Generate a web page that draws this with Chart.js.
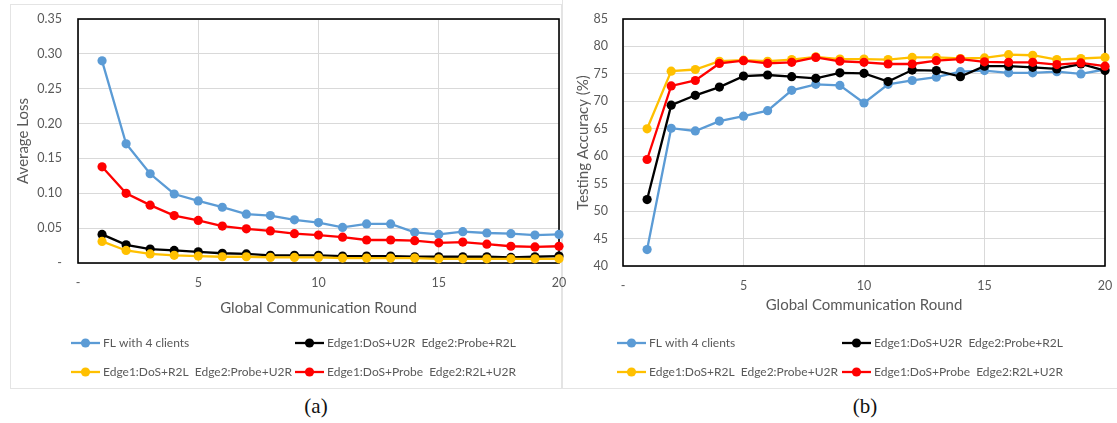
<!DOCTYPE html>
<html>
<head>
<meta charset="utf-8">
<script src="https://cdn.jsdelivr.net/npm/chart.js@4.4.1/dist/chart.umd.min.js"></script>
<style>
  html, body { margin: 0; padding: 0; background: #fff; }
  #wrap { position: relative; width: 1117px; height: 423px; overflow: hidden; background: #fff; }
  .frame { position: absolute; border: 1px solid #e4e4e4; box-sizing: border-box; }
  canvas { position: absolute; }
  .cap { position: absolute; top: 394px; font-family: "Liberation Serif", "DejaVu Serif", serif; font-size: 21px; color: #111; transform: translateX(-50%); }
</style>
</head>
<body>
<div id="wrap">
  <div class="frame" style="left:10px; top:4px; width:552px; height:385px;"></div>
  <div class="frame" style="left:562px; top:-2px; width:560px; height:391px;"></div>
  <canvas id="lossChart" width="580" height="388" style="left:0; top:0;"></canvas>
  <canvas id="accChart" width="555" height="388" style="left:562px; top:0;"></canvas>
  <div class="cap" style="left:316px;">(a)</div>
  <div class="cap" style="left:865px;">(b)</div>
</div>
<script>
// Communication rounds
const rounds = [1, 2, 3, 4, 5, 6, 7, 8, 9, 10, 11, 12, 13, 14, 15, 16, 17, 18, 19, 20];

// Series names
const seriesNames = [
  'FL with 4 clients',
  'Edge1:DoS+U2R  Edge2:Probe+R2L',
  'Edge1:DoS+R2L  Edge2:Probe+U2R',
  'Edge1:DoS+Probe  Edge2:R2L+U2R'
];
const seriesColors = ['#5B9BD5', '#000000', '#FFC000', '#FF0000'];

// (a) Average loss per round
const lossFL        = [0.290, 0.171, 0.128, 0.099, 0.089, 0.080, 0.070, 0.068, 0.062, 0.058, 0.051, 0.056, 0.056, 0.044, 0.041, 0.045, 0.043, 0.042, 0.040, 0.041];
const lossU2R_R2L   = [0.041, 0.026, 0.020, 0.018, 0.016, 0.014, 0.013, 0.011, 0.011, 0.011, 0.010, 0.010, 0.010, 0.009, 0.009, 0.009, 0.009, 0.008, 0.009, 0.010];
const lossR2L_U2R   = [0.031, 0.018, 0.013, 0.011, 0.010, 0.009, 0.009, 0.008, 0.008, 0.008, 0.007, 0.007, 0.007, 0.007, 0.006, 0.006, 0.006, 0.006, 0.006, 0.006];
const lossProbe_R2L = [0.138, 0.100, 0.083, 0.068, 0.061, 0.053, 0.049, 0.046, 0.042, 0.040, 0.037, 0.033, 0.033, 0.032, 0.029, 0.030, 0.027, 0.024, 0.023, 0.024];

// (b) Testing accuracy per round (%)
const accFL        = [43.0, 65.1, 64.6, 66.4, 67.3, 68.3, 72.0, 73.1, 72.9, 69.7, 73.1, 73.8, 74.4, 75.4, 75.6, 75.2, 75.2, 75.4, 75.0, 75.8];
const accU2R_R2L   = [52.1, 69.3, 71.1, 72.6, 74.6, 74.8, 74.5, 74.2, 75.2, 75.1, 73.6, 75.7, 75.6, 74.5, 76.4, 76.4, 76.2, 75.9, 76.8, 75.6];
const accR2L_U2R   = [65.0, 75.5, 75.8, 77.3, 77.5, 77.3, 77.6, 78.1, 77.7, 77.7, 77.6, 78.0, 78.0, 77.8, 77.9, 78.5, 78.4, 77.6, 77.8, 78.0];
const accProbe_R2L = [59.4, 72.8, 73.8, 76.9, 77.4, 76.9, 77.1, 78.0, 77.3, 77.1, 76.8, 76.8, 77.4, 77.7, 77.2, 77.1, 77.1, 76.7, 77.0, 76.4];

// Axis tick settings
const xTicks = { min: 0, max: 20, step: 5 };
const lossTicks = { min: 0, max: 0.35, step: 0.05 };
const accTicks = { min: 40, max: 85, step: 5 };

const FONT = 'Lato, "Open Sans", sans-serif';
const TEXT_GRAY = '#595959';
const GRID_GRAY = '#d9d9d9';

function makeDatasets(seriesList) {
  return seriesList.map((vals, i) => ({
    label: seriesNames[i],
    data: rounds.map((r, k) => ({ x: r, y: vals[k] })),
    borderColor: seriesColors[i],
    backgroundColor: seriesColors[i],
    borderWidth: 2.3,
    pointRadius: 4.6,
    pointHoverRadius: 4.6,
    pointBorderWidth: 0,
    pointBackgroundColor: seriesColors[i],
    tension: 0,
    clip: false,
    order: 4 - i
  }));
}

// Black frame around the plotting area
const plotFrame = {
  id: 'plotFrame',
  beforeDatasetsDraw(chart) {
    const a = chart.chartArea, ctx = chart.ctx;
    ctx.save();
    ctx.strokeStyle = '#000';
    ctx.lineWidth = 1.6;
    ctx.strokeRect(a.left, a.top, a.right - a.left, a.bottom - a.top);
    ctx.restore();
  }
};

// Two-column legend below the axis
const gridLegend = {
  id: 'gridLegend',
  afterDraw(chart, args, opts) {
    const ctx = chart.ctx;
    ctx.save();
    ctx.font = '12px ' + FONT;
    ctx.textBaseline = 'middle';
    chart.data.datasets.forEach((ds, i) => {
      const col = i % 2, row = Math.floor(i / 2);
      const x0 = opts.cols[col], y = opts.rows[row];
      ctx.strokeStyle = ds.borderColor;
      ctx.lineWidth = 2.3;
      ctx.beginPath();
      ctx.moveTo(x0, y);
      ctx.lineTo(x0 + 29, y);
      ctx.stroke();
      ctx.fillStyle = ds.borderColor;
      ctx.beginPath();
      ctx.arc(x0 + 14.5, y, 4.6, 0, Math.PI * 2);
      ctx.fill();
      ctx.fillStyle = TEXT_GRAY;
      ctx.fillText(ds.label, x0 + 32, y);
    });
    ctx.restore();
  }
};

function buildChart(canvasId, seriesList, yCfg, layout) {
  return new Chart(document.getElementById(canvasId), {
    type: 'line',
    data: { datasets: makeDatasets(seriesList) },
    plugins: [plotFrame, gridLegend],
    options: {
      responsive: false,
      animation: false,
      devicePixelRatio: 1,
      layout: { padding: layout.padding, autoPadding: false },
      plugins: {
        legend: { display: false },
        tooltip: { enabled: false },
        gridLegend: { cols: layout.legendCols, rows: layout.legendRows }
      },
      scales: {
        x: {
          type: 'linear',
          min: xTicks.min, max: xTicks.max,
          afterFit(s) {
            s.height = layout.xHeight;
            s.paddingLeft = 0;
            s.paddingRight = 0;
          },
          ticks: {
            stepSize: xTicks.step,
            color: TEXT_GRAY,
            font: { family: FONT, size: 12.5 },
            padding: layout.xTickPad,
            maxRotation: 0,
            callback: v => (v === 0 ? '-' : String(v))
          },
          grid: { color: GRID_GRAY, lineWidth: 1, drawTicks: false },
          border: { display: false },
          title: {
            display: true,
            text: 'Global Communication Round',
            color: TEXT_GRAY,
            font: { family: FONT, size: 15, lineHeight: 1.2 },
            padding: { top: 0, bottom: layout.xTitlePad }
          }
        },
        y: {
          type: 'linear',
          min: yCfg.min, max: yCfg.max,
          afterFit(s) {
            s.width = layout.yWidth;
            s.paddingTop = 0;
            s.paddingBottom = 0;
          },
          ticks: {
            stepSize: yCfg.step,
            color: TEXT_GRAY,
            font: { family: FONT, size: 12.5 },
            padding: layout.yTickPad,
            callback: yCfg.fmt
          },
          grid: { color: GRID_GRAY, lineWidth: 1, drawTicks: false },
          border: { display: false },
          title: {
            display: true,
            text: yCfg.title,
            color: TEXT_GRAY,
            font: { family: FONT, size: 15, lineHeight: 1.2 },
            padding: { top: layout.yTitlePad, bottom: 0 }
          }
        }
      }
    }
  });
}

buildChart('lossChart',
  [lossFL, lossU2R_R2L, lossR2L_U2R, lossProbe_R2L],
  {
    min: lossTicks.min, max: lossTicks.max, step: lossTicks.step,
    title: 'Average Loss',
    fmt: v => (Math.abs(v) < 1e-9 ? '-' : v.toFixed(2))
  },
  {
    padding: { top: 19, right: 21, bottom: 65, left: 0 },
    yWidth: 78, yTickPad: 16, yTitlePad: 14,
    xHeight: 60, xTickPad: 12, xTitlePad: 6,
    legendCols: [71, 295], legendRows: [343, 372]
  }
);

buildChart('accChart',
  [accFL, accU2R_R2L, accR2L_U2R, accProbe_R2L],
  {
    min: accTicks.min, max: accTicks.max, step: accTicks.step,
    title: 'Testing Accuracy (%)',
    fmt: v => String(v)
  },
  {
    padding: { top: 19, right: 12, bottom: 65, left: 0 },
    yWidth: 61, yTickPad: 15, yTitlePad: 12,
    xHeight: 57, xTickPad: 12, xTitlePad: 9,
    legendCols: [55, 280], legendRows: [343, 372]
  }
);
</script>
</body>
</html>
